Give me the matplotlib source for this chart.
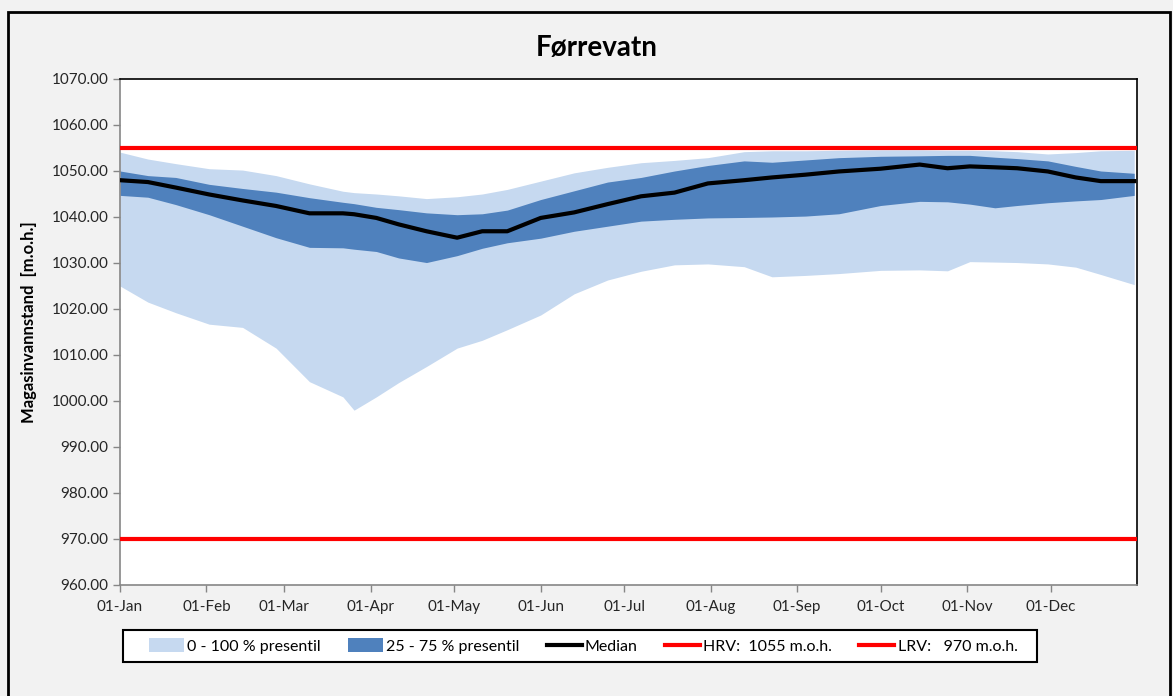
import numpy as np
import matplotlib.pyplot as plt
from matplotlib.patches import Rectangle
from matplotlib.lines import Line2D
from matplotlib.patches import Patch

# day of year (0 = 01-Jan) for the sampled points
days = [0, 10, 20, 32, 44, 56, 68, 80, 84, 92, 100, 110, 121, 130, 139, 151, 163,
        175, 187, 199, 211, 224, 234, 246, 258, 273, 287, 297, 305, 314, 322, 333,
        343, 352, 364]

p_min = [1025.0, 1021.5, 1019.2, 1016.7, 1016.0, 1011.5, 1004.2, 1000.9, 998.0, 1000.9,
         1004.0, 1007.5, 1011.5, 1013.2, 1015.5, 1018.7, 1023.3, 1026.3, 1028.2, 1029.6,
         1029.8, 1029.2, 1027.0, 1027.3, 1027.7, 1028.4, 1028.5, 1028.3, 1030.3, 1030.2,
         1030.1, 1029.8, 1029.1, 1027.5, 1025.3]
p25 = [1044.7, 1044.3, 1042.7, 1040.5, 1038.0, 1035.5, 1033.4, 1033.3, 1033.0, 1032.5,
       1031.1, 1030.1, 1031.6, 1033.2, 1034.4, 1035.4, 1036.9, 1038.0, 1039.1, 1039.5,
       1039.8, 1039.9, 1040.0, 1040.2, 1040.7, 1042.5, 1043.4, 1043.3, 1042.8, 1042.0,
       1042.5, 1043.1, 1043.5, 1043.8, 1044.7]
median = [1048.0, 1047.6, 1046.4, 1044.9, 1043.6, 1042.4, 1040.8, 1040.8, 1040.6, 1039.8,
          1038.4, 1036.9, 1035.5, 1036.9, 1036.9, 1039.8, 1041.0, 1042.8, 1044.5, 1045.3,
          1047.3, 1048.0, 1048.6, 1049.2, 1049.9, 1050.5, 1051.4, 1050.6, 1051.0, 1050.8,
          1050.6, 1049.9, 1048.6, 1047.8, 1047.8]
p75 = [1050.0, 1049.0, 1048.6, 1047.1, 1046.2, 1045.4, 1044.2, 1043.2, 1042.9, 1042.1,
       1041.6, 1040.9, 1040.5, 1040.7, 1041.5, 1043.8, 1045.7, 1047.6, 1048.6, 1050.0,
       1051.2, 1052.2, 1051.9, 1052.4, 1052.9, 1053.2, 1053.3, 1053.4, 1053.4, 1053.0,
       1052.7, 1052.2, 1051.0, 1050.0, 1049.5]
p_max = [1054.1, 1052.6, 1051.6, 1050.5, 1050.2, 1049.0, 1047.2, 1045.6, 1045.3, 1045.0,
         1044.6, 1044.0, 1044.4, 1045.0, 1046.0, 1047.8, 1049.6, 1050.8, 1051.8, 1052.3,
         1052.9, 1054.2, 1054.4, 1054.4, 1054.5, 1054.6, 1054.6, 1054.5, 1054.5, 1054.4,
         1054.2, 1053.7, 1054.0, 1054.4, 1054.5]

hrv = 1055
lrv = 970

month_starts = [0, 31, 59, 90, 120, 151, 181, 212, 243, 273, 304, 334]
month_labels = ["01-Jan", "01-Feb", "01-Mar", "01-Apr", "01-May", "01-Jun",
                "01-Jul", "01-Aug", "01-Sep", "01-Oct", "01-Nov", "01-Dec"]
y_ticks = list(range(960, 1071, 10))

LIGHT = "#c6d9f0"
DARK = "#4f81bd"
RED = "#ff0000"
FONT = "Lato"

W, H = 1173, 696
fig = plt.figure(figsize=(W / 100, H / 100), dpi=100, facecolor="#f2f2f2")

# outer frame
fig.patches.append(Rectangle((8 / W, -0.05), 1162 / W, 1.05 - 12 / H, transform=fig.transFigure,
                             fill=False, edgecolor="black", linewidth=2))

ax = fig.add_axes([120 / W, (H - 585) / H, 1017 / W, 506 / H])
ax.set_facecolor("white")

ax.fill_between(days, p_min, p_max, color=LIGHT, linewidth=0, zorder=1)
ax.fill_between(days, p25, p75, color=DARK, linewidth=0, zorder=2)
ax.plot(days, median, color="black", linewidth=3, zorder=3)
ax.axhline(hrv, color=RED, linewidth=3, zorder=4)
ax.axhline(lrv, color=RED, linewidth=3, zorder=4)

ax.set_xlim(0, 365)
ax.set_ylim(960, 1070)
ax.set_yticks(y_ticks)
ax.set_yticklabels([f"{v:.2f}" for v in y_ticks], fontsize=11, family=FONT)
ax.set_xticks(month_starts)
ax.set_xticklabels(month_labels, fontsize=11, family=FONT)
ax.tick_params(axis="both", direction="out", length=5, color="#868686", width=1, colors="#262626")
ax.tick_params(axis="x", pad=6)
for s in ["left", "bottom"]:
    ax.spines[s].set_color("#868686")
    ax.spines[s].set_linewidth(1.2)
for s in ["top", "right"]:
    ax.spines[s].set_color("black")
    ax.spines[s].set_linewidth(1.2)

ax.set_ylabel("Magasinvannstand  [m.o.h.]", fontsize=12, fontweight="bold", family=FONT)
ax.yaxis.set_label_coords(-83 / 1017, (585 - 322) / 506)
fig.text(597 / W, 1 - 48 / H, "Førrevatn", ha="center", va="center", fontsize=20,
         fontweight="bold", family=FONT)

# legend box drawn separately so the inner padding can match
fig.patches.append(Rectangle((123 / W, 1 - 662 / H), 914 / W, 32 / H, transform=fig.transFigure,
                             facecolor="white", edgecolor="black", linewidth=1.5, zorder=5))

handles = [
    Patch(facecolor=LIGHT, edgecolor="none"),
    Patch(facecolor=DARK, edgecolor="none"),
    Line2D([], [], color="black", linewidth=3),
    Line2D([], [], color=RED, linewidth=3),
    Line2D([], [], color=RED, linewidth=3),
]
labels = ["0 - 100 % presentil", "25 - 75 % presentil", "Median",
          "HRV:  1055 m.o.h.", "LRV:   970 m.o.h."]
leg = fig.legend(handles, labels, loc="center", bbox_to_anchor=(583 / W, 1 - 646 / H), ncol=5,
                 frameon=False, prop={"family": FONT, "size": 11.5}, handlelength=2.2,
                 handleheight=0.9, handletextpad=0.2, columnspacing=1.7, borderpad=0,
                 borderaxespad=0)
leg.set_zorder(6)

fig.savefig("out.png", dpi=100, facecolor=fig.get_facecolor())
